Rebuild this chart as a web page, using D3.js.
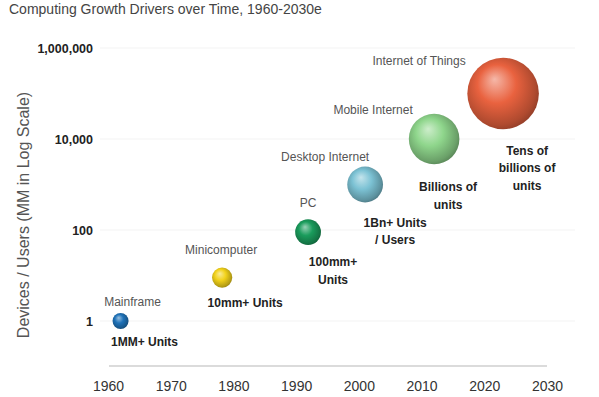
<!DOCTYPE html>
<html>
<head>
<meta charset="utf-8">
<script src="https://d3js.org/d3.v7.min.js"></script>
<style>
  body { margin: 0; background: #fff; }
  svg { font-family: "Liberation Sans", Arial, sans-serif; }
</style>
</head>
<body>
<svg id="chart" width="599" height="397"></svg>
<script>
// data
var eras = ['Mainframe', 'Minicomputer', 'PC', 'Desktop Internet', 'Mobile Internet', 'Internet of Things'];
var years = [1962, 1978.2, 1991.9, 2001, 2012, 2023];
var units = [1, 9, 90, 1000, 10000, 100000];   // MM devices / users
var weight = [1, 1.6, 2.6, 5, 10, 20];           // relative bubble size
var notes = [['1MM+ Units'], ['10mm+ Units'], ['100mm+', 'Units'], ['1Bn+ Units', '/ Users'],
             ['Billions of', 'units'], ['Tens of', 'billions of', 'units']];
var colors = ['#1f72b8', '#f2d21a', '#1a9c5c', '#7cc2d4', '#8fd68c', '#e9623f'];
var yTicks = [1, 100, 10000, 1000000];
var xTicks = [1960, 1970, 1980, 1990, 2000, 2010, 2020, 2030];

// label offsets from bubble centre (layout only)
var nameOff = [[12, -18], [-1, -27], [0, -28], [-40, -27], [-61, -28], [-84, -32]];
var noteOff = [[24, 22], [23, 26], [25, 31], [30, 39], [14, 49], [24, 58]];

var svg = d3.select('#chart');

var x = d3.scaleLinear().domain([1960, 2030]).range([108, 547]);
var y = d3.scaleLog().domain([1, 1000000]).range([321, 48]);
var r = d3.scaleSqrt().domain([0, 1]).range([0, 8]);

// title
svg.append('text')
  .attr('x', 9).attr('y', 14)
  .attr('font-size', 14)
  .attr('fill', '#444')
  .text('Computing Growth Drivers over Time, 1960-2030e');

// faint gridlines
svg.append('g').selectAll('line')
  .data(yTicks)
  .enter().append('line')
  .attr('x1', 100).attr('x2', 575)
  .attr('y1', d => y(d)).attr('y2', d => y(d))
  .attr('stroke', '#f3f3f3');

// y axis
var yAxis = d3.axisLeft(y)
  .tickValues(yTicks)
  .tickFormat(d3.format(','))
  .tickSize(0)
  .tickPadding(0);
var yG = svg.append('g')
  .attr('transform', 'translate(93,0)')
  .call(yAxis);
yG.select('.domain').remove();
yG.selectAll('text')
  .attr('font-family', '"Liberation Sans", Arial, sans-serif')
  .attr('font-size', 12.5)
  .attr('font-weight', 'bold')
  .attr('fill', '#222');

svg.append('text')
  .attr('transform', 'translate(25,215) rotate(-90)')
  .attr('text-anchor', 'middle')
  .attr('dominant-baseline', 'middle')
  .attr('font-size', 16)
  .attr('fill', '#555')
  .text('Devices / Users (MM in Log Scale)');

// x axis
var xAxis = d3.axisBottom(x)
  .tickValues(xTicks)
  .tickFormat(d3.format('d'))
  .tickSize(0)
  .tickPadding(15);
var xG = svg.append('g')
  .attr('transform', 'translate(0,366)')
  .call(xAxis);
xG.select('.domain')
  .attr('stroke', '#cfcfcf')
  .attr('stroke-width', 1.5)
  .attr('d', 'M' + (x(1960) + 1) + ',0H' + x(2030));
xG.selectAll('text')
  .attr('font-family', '"Liberation Sans", Arial, sans-serif')
  .attr('font-size', 14)
  .attr('fill', '#333');

// sphere gradients
var defs = svg.append('defs');
colors.forEach(function (c, i) {
  var g = defs.append('radialGradient')
    .attr('id', 'ball' + i)
    .attr('cx', '45%').attr('cy', '45%').attr('r', '60%')
    .attr('fx', '38%').attr('fy', '30%');
  g.append('stop').attr('offset', '0%').attr('stop-color', d3.interpolateRgb(c, '#fff')(0.55));
  g.append('stop').attr('offset', '45%').attr('stop-color', c);
  g.append('stop').attr('offset', '85%').attr('stop-color', d3.interpolateRgb(c, '#000')(0.25));
  g.append('stop').attr('offset', '100%').attr('stop-color', d3.interpolateRgb(c, '#000')(0.4));
});

var idx = d3.range(eras.length);

svg.append('g').selectAll('circle')
  .data(idx)
  .enter().append('circle')
  .attr('cx', i => x(years[i]))
  .attr('cy', i => y(units[i]))
  .attr('r', i => r(weight[i]))
  .attr('fill', i => 'url(#ball' + i + ')');

// era names
svg.append('g').selectAll('text')
  .data(idx)
  .enter().append('text')
  .attr('x', i => x(years[i]) + nameOff[i][0])
  .attr('y', i => y(units[i]) + nameOff[i][1])
  .attr('text-anchor', 'middle')
  .attr('dominant-baseline', 'middle')
  .attr('font-size', 12)
  .attr('fill', '#555')
  .text(i => eras[i]);

// unit notes
var noteG = svg.append('g').selectAll('text')
  .data(idx)
  .enter().append('text')
  .attr('text-anchor', 'middle')
  .attr('font-size', 12)
  .attr('font-weight', 'bold')
  .attr('fill', '#222');
noteG.each(function (i) {
  var t = d3.select(this);
  notes[i].forEach(function (line, k) {
    t.append('tspan')
      .attr('x', x(years[i]) + noteOff[i][0])
      .attr('y', y(units[i]) + noteOff[i][1] + k * 17.5)
      .attr('dominant-baseline', 'middle')
      .text(line);
  });
});
</script>
</body>
</html>
